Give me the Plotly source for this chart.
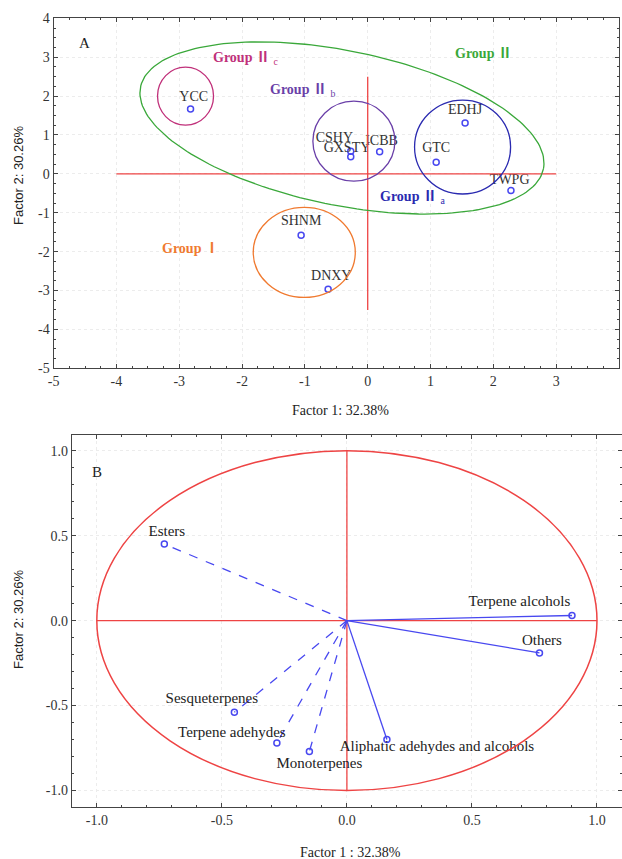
import numpy as np
import plotly.graph_objects as go

W, H = 622, 859

# ---------------- Panel A data ----------------
samples = ["YCC", "CSHY", "GXSTY", "ICBB", "GTC", "EDHJ", "TWPG", "SHNM", "DNXY"]
f1_scores = [-2.82, -0.27, -0.27, 0.19, 1.09, 1.55, 2.28, -1.06, -0.63]
f2_scores = [1.67, 0.58, 0.44, 0.57, 0.30, 1.31, -0.43, -1.58, -2.97]
label_x = [-2.77, -0.53, -0.33, 0.22, 1.09, 1.55, 2.26, -1.06, -0.58]
label_y = [1.97, 0.92, 0.66, 0.82, 0.64, 1.64, -0.18, -1.23, -2.63]
a_ticks = [-5, -4, -3, -2, -1, 0, 1, 2, 3, 4]
a_ticktext = ["-5", "-4", "-3", "-2", "-1", "0", "1", "2", "3", "4"]

# ---------------- Panel B data ----------------
variables = ["Esters", "Terpene alcohols", "Others", "Sesqueterpenes",
             "Terpene adehydes", "Monoterpenes", "Aliphatic adehydes and alcohols"]
load_f1 = [-0.73, 0.90, 0.77, -0.45, -0.28, -0.15, 0.16]
load_f2 = [0.45, 0.03, -0.19, -0.54, -0.72, -0.77, -0.70]
dashed = [True, False, False, True, True, True, False]
var_lx = [-0.72, 0.69, 0.78, -0.54, -0.46, -0.11, 0.36]
var_ly = [0.52, 0.11, -0.12, -0.46, -0.66, -0.845, -0.745]
b_ticks = [-1.0, -0.5, 0.0, 0.5, 1.0]
b_ticktext = ["-1.0", "-0.5", "0.0", "0.5", "1.0"]

SERIF = "Liberation Serif"
SANS = "Liberation Sans"
GROUPFONT = "Liberation Serif, Noto Sans CJK SC"
BLUE = "#4848f0"
RED = "#ee4444"

fig = go.Figure()

# Panel A points
fig.add_trace(go.Scatter(x=f1_scores, y=f2_scores, mode="markers",
                         marker=dict(symbol="circle-open", size=6, color=BLUE,
                                     line=dict(width=1.5, color=BLUE)),
                         xaxis="x", yaxis="y", showlegend=False, hoverinfo="skip"))
fig.add_trace(go.Scatter(x=label_x, y=label_y, mode="text", text=samples,
                         textfont=dict(family=SERIF, size=14, color="#333"),
                         xaxis="x", yaxis="y", showlegend=False, hoverinfo="skip"))

# red cross lines panel A
fig.add_trace(go.Scatter(x=[-4, 3], y=[0, 0], mode="lines", line=dict(color=RED, width=1.3),
                         xaxis="x", yaxis="y", showlegend=False, hoverinfo="skip"))
fig.add_trace(go.Scatter(x=[0, 0], y=[-3.5, 2.5], mode="lines", line=dict(color=RED, width=1.3),
                         xaxis="x", yaxis="y", showlegend=False, hoverinfo="skip"))

# rotated green ellipse (computed in pixel space then converted)
sx, sy = 62.8, 38.9  # px per unit
cx, cy = -0.41, 1.18
a, b, th = 205.5, 77.3, np.deg2rad(11.5)
t = np.linspace(0, 2 * np.pi, 200)
px = a * np.cos(t) * np.cos(th) - b * np.sin(t) * np.sin(th)
py = a * np.cos(t) * np.sin(th) + b * np.sin(t) * np.cos(th)  # py downward
ex = cx + px / sx
ey = cy - py / sy
fig.add_trace(go.Scatter(x=ex, y=ey, mode="lines", line=dict(color="#3aa83a", width=1.3),
                         xaxis="x", yaxis="y", showlegend=False, hoverinfo="skip"))

shapes = []
def circ(xc, yc, rx, ry, color, xref="x", yref="y", w=1.3):
    shapes.append(dict(type="circle", xref=xref, yref=yref, x0=xc - rx, x1=xc + rx,
                       y0=yc - ry, y1=yc + ry, line=dict(color=color, width=w)))

circ(-2.9, 2.0, 28 / sx, 29 / sy, "#c0307a")      # IIc
circ(-0.22, 0.84, 41 / sx, 40 / sy, "#6a3fa8")    # IIb
circ(1.51, 0.69, 48 / sx, 47 / sy, "#2a2ab0")     # IIa
circ(-1.01, -2.02, 51 / sx, 45 / sy, "#f07a30")   # I
circ(0, 0, 1, 1, RED, "x2", "y2", 1.5)             # correlation circle

# Panel B
fig.add_trace(go.Scatter(x=[-1, 1], y=[0, 0], mode="lines", line=dict(color=RED, width=1.3),
                         xaxis="x2", yaxis="y2", showlegend=False, hoverinfo="skip"))
fig.add_trace(go.Scatter(x=[0, 0], y=[-1, 1], mode="lines", line=dict(color=RED, width=1.3),
                         xaxis="x2", yaxis="y2", showlegend=False, hoverinfo="skip"))
for vx, vy, d in zip(load_f1, load_f2, dashed):
    fig.add_trace(go.Scatter(x=[0, vx], y=[0, vy], mode="lines",
                             line=dict(color=BLUE, width=1.3, dash="dash" if d else "solid"),
                             xaxis="x2", yaxis="y2", showlegend=False, hoverinfo="skip"))
fig.add_trace(go.Scatter(x=load_f1, y=load_f2, mode="markers",
                         marker=dict(symbol="circle-open", size=6, color=BLUE,
                                     line=dict(width=1.5, color=BLUE)),
                         xaxis="x2", yaxis="y2", showlegend=False, hoverinfo="skip"))
fig.add_trace(go.Scatter(x=var_lx, y=var_ly, mode="text", text=variables,
                         textfont=dict(family=SERIF, size=15, color="#222"),
                         xaxis="x2", yaxis="y2", showlegend=False, hoverinfo="skip"))

def P(px_, py_):
    return px_ / W, 1 - py_ / H

annotations = []
def ann(text, px_, py_, color="#222", size=13, family=SERIF, angle=0, xanchor="center"):
    x, y = P(px_, py_)
    annotations.append(dict(text=text, x=x, y=y, xref="paper", yref="paper", showarrow=False,
                            font=dict(family=family, size=size, color=color), textangle=angle,
                            xanchor=xanchor, yanchor="middle"))

ann("A", 84, 43, size=15)
ann("B", 97, 472, size=15)
ann("<b>Group Ⅱ</b> <sub>c</sub>", 245, 58, color="#c0307a", family=GROUPFONT, size=14)
ann("<b>Group Ⅱ</b> <sub>b</sub>", 302, 90, color="#6a3fa8", family=GROUPFONT, size=14)
ann("<b>Group Ⅱ</b> <sub>a</sub>", 412, 197, color="#2a2ab0", family=GROUPFONT, size=14)
ann("<b>Group Ⅱ</b>", 483, 54, color="#3aa83a", family=GROUPFONT, size=14)
ann("<b>Group Ⅰ</b>", 190, 248, color="#f07a30", family=GROUPFONT, size=14)
ann("Factor 2: 30.26%", 18, 176, family=SANS, size=13, angle=-90)
ann("Factor 1: 32.38%", 340, 410, size=14)
ann("Factor 2: 30.26%", 18, 620, family=SANS, size=13, angle=-90)
ann("Factor 1 : 32.38%", 350, 852, size=14)

axis_common = dict(showline=True, linecolor="#444", linewidth=1.2, mirror="allticks",
                   ticks="inside", ticklen=4, tickcolor="#444", zeroline=False,
                   showgrid=True, gridcolor="#ececec", griddash="dot", automargin=False,
                   tickfont=dict(family=SERIF, size=14, color="#333"))
minor_a = dict(dtick=0.25, ticks="inside", ticklen=2, tickcolor="#444", showgrid=False)
minor_b = dict(dtick=0.1, ticks="inside", ticklen=2, tickcolor="#444", showgrid=False)

fig.update_layout(
    width=W, height=H, margin=dict(l=0, r=0, t=0, b=0),
    paper_bgcolor="white", plot_bgcolor="white",
    shapes=shapes, annotations=annotations,
    xaxis=dict(domain=[53.6 / W, 619 / W], range=[-5, 4], tickvals=a_ticks, ticktext=a_ticktext,
               anchor="y", minor=minor_a, **axis_common),
    yaxis=dict(domain=[1 - 368.3 / H, 1 - 18.3 / H], range=[-5, 4], tickvals=a_ticks,
               ticktext=a_ticktext, anchor="x", minor=minor_a, **axis_common),
    xaxis2=dict(domain=[71.8 / W, 1.0], range=[-1.1, 1.1], tickvals=b_ticks, ticktext=b_ticktext,
                anchor="y2", minor=minor_b, **axis_common),
    yaxis2=dict(domain=[1 - 806.7 / H, 1 - 435 / H], range=[-1.095, 1.092], tickvals=b_ticks,
                ticktext=b_ticktext, anchor="x2", minor=minor_b, **axis_common),
)

fig.write_html("out.html", config={"displayModeBar": False},
               post_script="document.body.style.margin='0';document.body.style.overflow='hidden';")
